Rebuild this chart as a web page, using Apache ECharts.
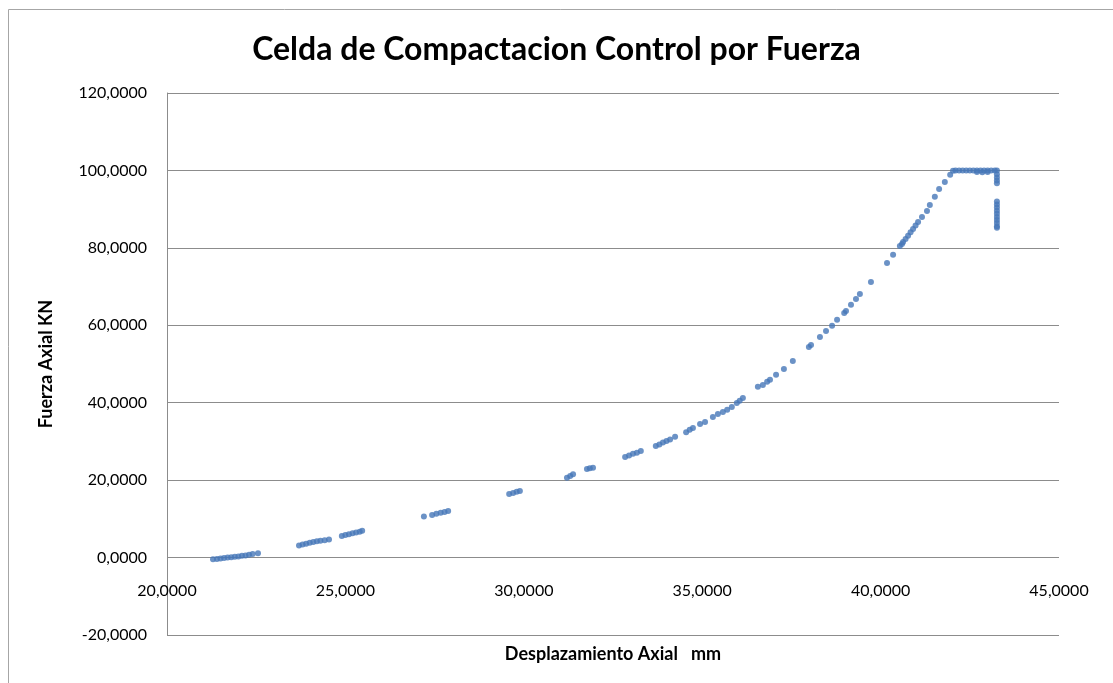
<!DOCTYPE html>
<html>
<head>
<meta charset="utf-8">
<title>Celda de Compactacion Control por Fuerza</title>
<script src="https://cdn.jsdelivr.net/npm/echarts@6/dist/echarts.min.js"></script>
<style>
  html, body { margin: 0; padding: 0; background: #fff; }
  #chart { width: 1113px; height: 683px; }
</style>
</head>
<body>
<div id="chart"></div>
<script>
// Desplazamiento axial (mm)
var desplazamiento = [
  21.29, 21.4, 21.5, 21.6, 21.7, 21.8, 21.9, 22.0, 22.1, 22.2, 22.3, 22.4, 22.55,
  23.7, 23.8, 23.9, 24.0, 24.1, 24.2, 24.3, 24.42, 24.54,
  24.9, 25.0, 25.1, 25.2, 25.3, 25.4, 25.47,
  27.2, 27.43, 27.55, 27.67, 27.78, 27.88,
  29.59, 29.7, 29.8, 29.89,
  31.21, 31.3, 31.38, 31.77, 31.85, 31.94,
  32.84, 32.95, 33.06, 33.17, 33.28,
  33.7, 33.8, 33.9, 34.0, 34.1, 34.24,
  34.55, 34.65, 34.74, 34.94, 35.08, 35.3, 35.44,
  35.58, 35.7, 35.83, 35.97, 36.05, 36.14,
  36.56, 36.7, 36.82, 36.9, 37.07, 37.29, 37.54, 37.99, 38.05,
  38.3, 38.47, 38.64, 38.78, 38.98, 39.03, 39.17, 39.31, 39.42, 39.73,
  40.18, 40.35, 40.54, 40.6, 40.63, 40.7, 40.77, 40.84, 40.91, 40.98,
  41.05, 41.16, 41.3, 41.38, 41.52, 41.64, 41.8, 41.95, 42.03,
  42.1, 42.2, 42.3, 42.4, 42.5, 42.6, 42.7, 42.8, 42.9, 43.0, 43.1, 43.2, 43.26,
  42.7, 42.85, 43.0,
  43.26, 43.26, 43.26, 43.26,
  43.26, 43.26, 43.26, 43.26, 43.26, 43.26, 43.26, 43.26, 43.26, 43.26
];

// Fuerza axial (KN)
var fuerza = [
  -0.45, -0.35, -0.25, -0.1, 0.0, 0.1, 0.2, 0.3, 0.45, 0.55, 0.7, 0.9, 1.1,
  3.1, 3.35, 3.6, 3.85, 4.05, 4.2, 4.35, 4.5, 4.7,
  5.6, 5.85, 6.05, 6.3, 6.5, 6.7, 6.9,
  10.6, 11.0, 11.35, 11.6, 11.8, 12.0,
  16.4, 16.7, 17.0, 17.2,
  20.6, 21.1, 21.5, 22.9, 23.05, 23.2,
  26.0, 26.35, 26.8, 27.1, 27.5,
  28.8, 29.2, 29.7, 30.1, 30.5, 31.2,
  32.4, 33.0, 33.5, 34.5, 35.0, 36.3, 37.1,
  37.6, 38.2, 38.9, 39.9, 40.5, 41.2,
  44.1, 44.6, 45.4, 45.9, 47.2, 48.7, 50.8, 54.4, 54.9,
  57.0, 58.5, 59.9, 61.4, 63.2, 63.7, 65.3, 66.8, 68.1, 71.2,
  76.1, 78.2, 80.5, 81.0, 81.5, 82.3, 83.1, 84.0, 84.9, 85.8,
  86.7, 88.0, 89.5, 91.1, 93.2, 95.2, 97.0, 98.9, 99.9,
  100, 100, 100, 100, 100, 100, 100, 100, 100, 100, 100, 100, 100,
  99.6, 99.5, 99.6,
  99.0, 98.2, 97.4, 96.7,
  92.0, 91.2, 90.4, 89.6, 88.8, 88.0, 87.2, 86.4, 85.6, 85.2
];

(function() {
  var myChart = echarts.init(document.getElementById('chart'));

  var puntos = desplazamiento.map(function(x, i) { return [x, fuerza[i]]; });

  function coma(v) {
    return v.toFixed(4).replace('.', ',');
  }

  var fuente = 'Lato, "Open Sans", sans-serif';

  var option = {
    backgroundColor: '#fff',
    title: {
      text: 'Celda de Compactacion Control por Fuerza',
      left: 'center',
      top: 29,
      textStyle: { fontFamily: fuente, fontSize: 32, fontWeight: 'bold', color: '#000' }
    },
    grid: { left: 167, right: 54, top: 93, bottom: 48, outerBoundsMode: 'none' },
    xAxis: {
      type: 'value',
      min: 20, max: 45, interval: 5,
      name: 'Desplazamiento Axial   mm',
      nameLocation: 'middle',
      nameGap: 10,
      nameTextStyle: { fontFamily: fuente, fontSize: 18, fontWeight: 'bold', color: '#000', verticalAlign: 'top' },
      axisLine: { show: false, onZero: false },
      axisTick: { show: false },
      // las etiquetas van justo debajo de la linea del cero, como en Excel
      axisLabel: { margin: -52, formatter: coma, fontFamily: fuente, fontSize: 16, color: '#000' },
      splitLine: { show: false }
    },
    yAxis: {
      type: 'value',
      min: -20, max: 120, interval: 20,
      name: 'Fuerza Axial KN',
      nameLocation: 'middle',
      nameGap: 112,
      nameTextStyle: { fontFamily: fuente, fontSize: 18, fontWeight: 'bold', color: '#000' },
      axisLine: { show: true, lineStyle: { color: '#8c8c8c', width: 1 } },
      axisTick: { show: false },
      axisLabel: { margin: 20, formatter: coma, fontFamily: fuente, fontSize: 16, color: '#000' },
      splitLine: { show: true, lineStyle: { color: '#8c8c8c', width: 1 } }
    },
    graphic: [
      { type: 'line', shape: { x1: 8.5, y1: 9.5, x2: 1113, y2: 9.5 }, style: { stroke: '#a6a6a6', lineWidth: 1 } },
      { type: 'line', shape: { x1: 8.5, y1: 9.5, x2: 8.5, y2: 683 }, style: { stroke: '#a6a6a6', lineWidth: 1 } }
    ],
    series: [
      {
        name: 'Fuerza',
        type: 'scatter',
        symbol: 'circle',
        symbolSize: 6,
        itemStyle: { color: '#4677b8' },
        data: puntos
      }
    ]
  };

  myChart.setOption(option);
})();
</script>
</body>
</html>
